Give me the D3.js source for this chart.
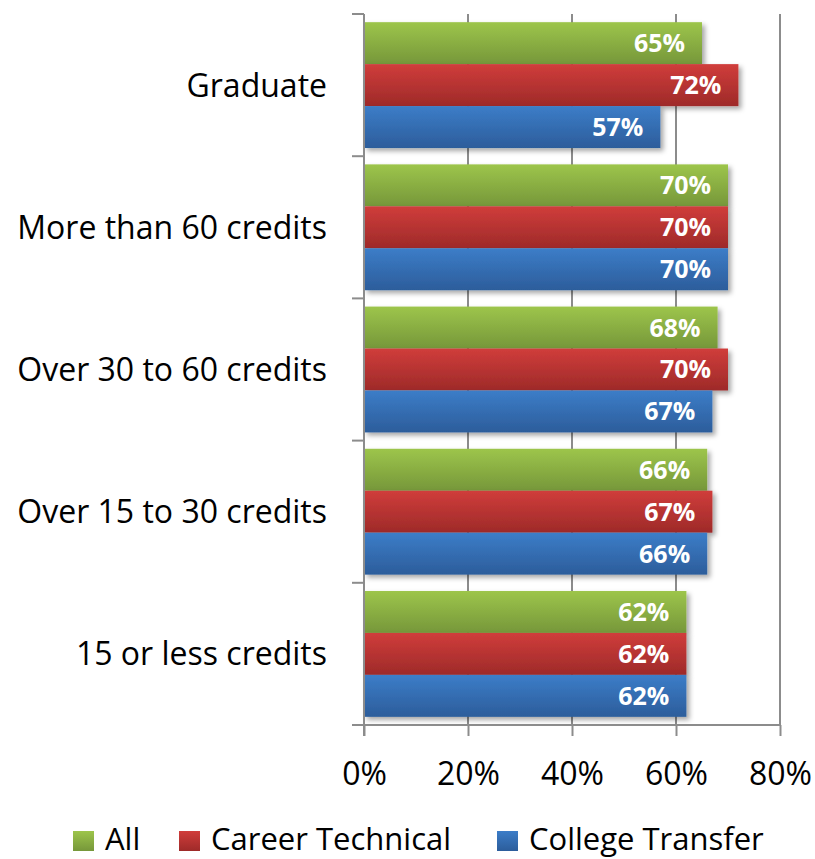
<!DOCTYPE html>
<html><head><meta charset="utf-8">
<script src="https://cdn.jsdelivr.net/npm/d3@7"></script>
<style>body{margin:0;background:#fff}svg{display:block}</style>
</head><body>
<script>
const categories = ["Graduate","More than 60 credits","Over 30 to 60 credits","Over 15 to 30 credits","15 or less credits"];
const seriesNames = ["All","Career Technical","College Transfer"];
const allValues = [65,70,68,66,62];
const careerValues = [72,70,70,67,62];
const transferValues = [57,70,67,66,62];
const tickValues = [0,20,40,60,80];
const seriesColors = [["#9dc54b","#76973a"],["#d03d3b","#9e2a29"],["#3c7dc8","#2c5d9b"]];
const seriesValues = [allValues, careerValues, transferValues];

const W=815,H=859;
const svg=d3.select("body").append("svg").attr("width",W).attr("height",H);
const font="'Open Sans', sans-serif";
const x=d3.scaleLinear().domain([0,80]).range([364,780]);
const y=d3.scaleBand().domain(categories).range([14,725]).paddingInner(0.115).paddingOuter(0.0575);
const ys=d3.scaleBand().domain(seriesNames).range([0,y.bandwidth()]);

const defs=svg.append("defs");
seriesColors.forEach((c,i)=>{
  const g=defs.append("linearGradient").attr("id","g"+i).attr("x1",0).attr("y1",0).attr("x2",0).attr("y2",1);
  g.append("stop").attr("offset","0%").attr("stop-color",c[0]);
  g.append("stop").attr("offset","100%").attr("stop-color",c[1]);
});
const f=defs.append("filter").attr("id","sh").attr("x","-10%").attr("y","-30%").attr("width","130%").attr("height","180%");
f.append("feDropShadow").attr("dx",3).attr("dy",3).attr("stdDeviation",2.5).attr("flood-color","#000").attr("flood-opacity",0.35);

// gridlines
const grid="#8c8c8c";
svg.append("g").selectAll("line").data(tickValues.slice(1)).join("line")
  .attr("x1",d=>x(d)).attr("x2",d=>x(d)).attr("y1",14).attr("y2",725)
  .attr("stroke",grid).attr("stroke-width",2);

// bars
const groups=svg.append("g").selectAll("g").data(categories).join("g")
  .attr("transform",d=>`translate(0,${y(d)})`);
seriesNames.forEach((s,si)=>{
  groups.append("rect").attr("x",x(0)).attr("y",ys(s))
    .attr("width",(d,i)=>x(seriesValues[si][i])-x(0)).attr("height",ys.bandwidth())
    .attr("fill",`url(#g${si})`).attr("filter","url(#sh)");
});
seriesNames.forEach((s,si)=>{
  groups.append("text").attr("x",(d,i)=>x(seriesValues[si][i])-17).attr("y",ys(s)+ys.bandwidth()/2)
    .attr("dy","0.36em").attr("text-anchor","end").attr("fill","#fff")
    .attr("font-family",font).attr("font-weight","bold").attr("font-size",25)
    .text((d,i)=>seriesValues[si][i]+"%");
});

// axes
const xAxis=svg.append("g").attr("transform","translate(0,725)")
  .call(d3.axisBottom(x).tickValues(tickValues).tickFormat(d=>d+"%").tickSize(11).tickPadding(26));
xAxis.select(".domain").remove();
xAxis.selectAll("line").attr("stroke",grid).attr("stroke-width",2);
xAxis.selectAll("text").attr("font-family",font).attr("font-size",32).attr("fill","#000");
svg.append("line").attr("x1",352).attr("x2",780).attr("y1",725).attr("y2",725).attr("stroke",grid).attr("stroke-width",2);

const yTicks=[14].concat(categories.map(c=>y(c)+y.bandwidth()+y.step()*y.paddingInner()/2));
svg.append("line").attr("x1",364).attr("x2",364).attr("y1",14).attr("y2",736).attr("stroke",grid).attr("stroke-width",2);
svg.append("g").selectAll("line").data(yTicks).join("line")
  .attr("x1",352).attr("x2",364).attr("y1",d=>d).attr("y2",d=>d).attr("stroke",grid).attr("stroke-width",2);

svg.append("g").selectAll("text").data(categories).join("text")
  .attr("x",327).attr("y",d=>y(d)+y.bandwidth()/2).attr("dy","0.36em").attr("text-anchor","end")
  .attr("font-family",font).attr("font-size",32).attr("fill","#000").text(d=>d);

// legend
const legX=[73,179,497];
const leg=svg.append("g").selectAll("g").data(seriesNames).join("g")
  .attr("transform",(d,i)=>`translate(${legX[i]},831)`);
leg.append("rect").attr("width",21).attr("height",20).attr("fill",(d,i)=>`url(#g${i})`);
leg.append("text").attr("x",32).attr("y",19)
  .attr("font-family",font).attr("font-size",31).attr("fill","#000").text(d=>d);
</script>
</body></html>
